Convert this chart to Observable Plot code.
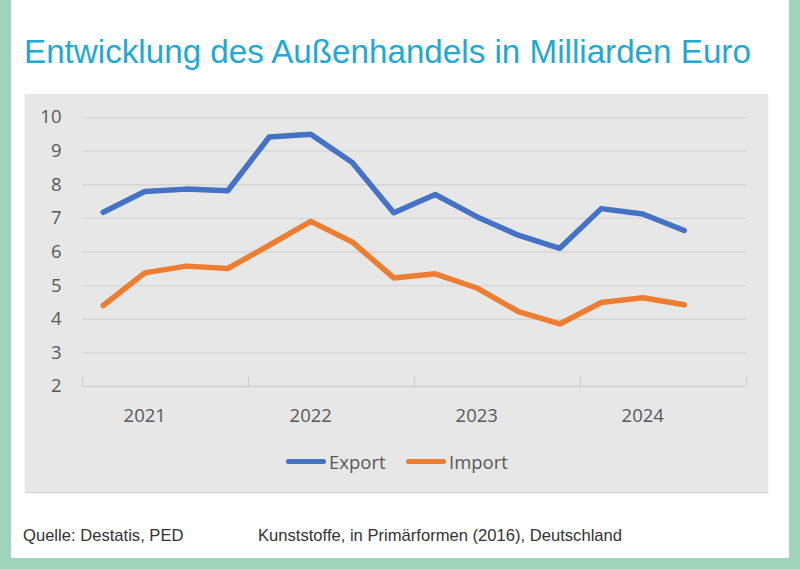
<!DOCTYPE html>
<html>
<head>
<meta charset="utf-8">
<script src="https://cdn.jsdelivr.net/npm/d3@7"></script>
<script src="https://cdn.jsdelivr.net/npm/@observablehq/plot@0.6"></script>
<style>
  html, body { margin: 0; padding: 0; background: #9fd4bb; }
  #frame { position: relative; width: 800px; height: 569px; background: #9fd4bb; overflow: hidden; }
  #inner { position: absolute; left: 11px; top: 0; width: 778px; height: 558px; background: #ffffff; }
  #title { position: absolute; left: 24px; top: 32px; font-family: "Liberation Sans", Arial, sans-serif; font-size: 33.2px; color: #22a8d5; white-space: nowrap; line-height: 40px; }
  #panel { position: absolute; left: 25px; top: 94px; width: 743px; height: 398px; background: #e7e7e7; box-shadow: 0 1px 1px #d2d2d2; }
  #chart { position: absolute; left: 0; top: 0; }
  #legend { position: absolute; top: 355px; left: 0; width: 743px; height: 24px; font-family: "Open Sans", sans-serif; font-size: 18.5px; color: #595959; }
  .item { position: absolute; top: 0; display: flex; align-items: center; height: 24px; }
  .swatch { width: 40px; height: 5px; border-radius: 3px; margin-right: 3px; }
  .foot { position: absolute; top: 526px; line-height: 20px; font-family: "Liberation Sans", Arial, sans-serif; font-size: 16.6px; color: #333; white-space: nowrap; }
</style>
</head>
<body>
<div id="frame">
  <div id="inner"></div>
  <div id="title">Entwicklung des Außenhandels in Milliarden Euro</div>
  <div id="panel">
    <div id="chart"></div>
    <div id="legend"></div>
  </div>
  <div class="foot" id="foot1" style="left:23px"></div>
  <div class="foot" id="foot2" style="left:258px"></div>
</div>
<script>
// ---- data ----
const quarters = ["Q1 2021","Q2 2021","Q3 2021","Q4 2021","Q1 2022","Q2 2022","Q3 2022","Q4 2022",
                  "Q1 2023","Q2 2023","Q3 2023","Q4 2023","Q1 2024","Q2 2024","Q3 2024"];
const exportValues = [7.18, 7.80, 7.87, 7.82, 9.42, 9.50, 8.66, 7.17, 7.71, 7.05, 6.50, 6.11, 7.29, 7.13, 6.64];
const importValues = [4.41, 5.38, 5.58, 5.51, 6.20, 6.91, 6.30, 5.23, 5.35, 4.93, 4.23, 3.86, 4.50, 4.64, 4.43];
const yearLabels = ["2021", "2022", "2023", "2024"];
const yTicks = [2, 3, 4, 5, 6, 7, 8, 9, 10];
const seriesNames = ["Export", "Import"];
const seriesColors = ["#4472c4", "#ed7d31"];
const sourceText = "Quelle: Destatis, PED";
const noteText = "Kunststoffe, in Primärformen (2016), Deutschland";

// ---- build ----
const rows = [];
quarters.forEach((q, i) => {
  rows.push({series: "Export", i, q, value: exportValues[i]});
  rows.push({series: "Import", i, q, value: importValues[i]});
});
// year label positions: second quarter of each year
const yearPos = yearLabels.map((y) => quarters.indexOf("Q2 " + y));
// category group boundaries (between years)
const nSlots = quarters.length + 1;
const bounds = d3.range(0, nSlots + 1, 4).map(b => b - 0.5);

const chart = Plot.plot({
  width: 743,
  height: 340,
  marginLeft: 57,
  marginRight: 22,
  marginTop: 23,
  marginBottom: 48,
  style: {background: "transparent", fontFamily: "Open Sans, sans-serif", color: "#595959", overflow: "visible"},
  x: {type: "linear", domain: [-0.5, nSlots - 0.5]},
  y: {domain: [2, 10]},
  color: {domain: seriesNames, range: seriesColors},
  marks: [
    Plot.ruleY(yTicks.filter(t => t > 2), {stroke: "#d6d6d6", strokeWidth: 1.3}),
    Plot.ruleY([2], {stroke: "#d0d0d0", strokeWidth: 1.3}),
    Plot.ruleX(bounds, {x: d => d, y1: 2, y2: 2.28, stroke: "#d0d0d0", strokeWidth: 1.3}),
    Plot.axisY({ticks: yTicks, tickSize: 0, tickPadding: 21, fontSize: 18.5, fill: "#595959", label: null}),
    Plot.axisX({ticks: yearPos, tickFormat: (d) => yearLabels[yearPos.indexOf(d)], tickSize: 0, tickPadding: 22, fontSize: 18.5, fill: "#595959", label: null}),
    Plot.line(rows, {x: "i", y: "value", z: "series", stroke: "series", strokeWidth: 5.5, strokeLinecap: "round", strokeLinejoin: "round"})
  ]
});
document.getElementById("chart").appendChild(chart);

// legend
const legend = document.getElementById("legend");
const legendLeft = [261, 381];
seriesNames.forEach((name, k) => {
  const it = document.createElement("div");
  it.className = "item";
  it.style.left = legendLeft[k] + "px";
  const sw = document.createElement("div");
  sw.className = "swatch";
  sw.style.background = seriesColors[k];
  const tx = document.createElement("span");
  tx.textContent = name;
  it.appendChild(sw); it.appendChild(tx);
  legend.appendChild(it);
});
document.getElementById("foot1").textContent = sourceText;
document.getElementById("foot2").textContent = noteText;
</script>
</body>
</html>
